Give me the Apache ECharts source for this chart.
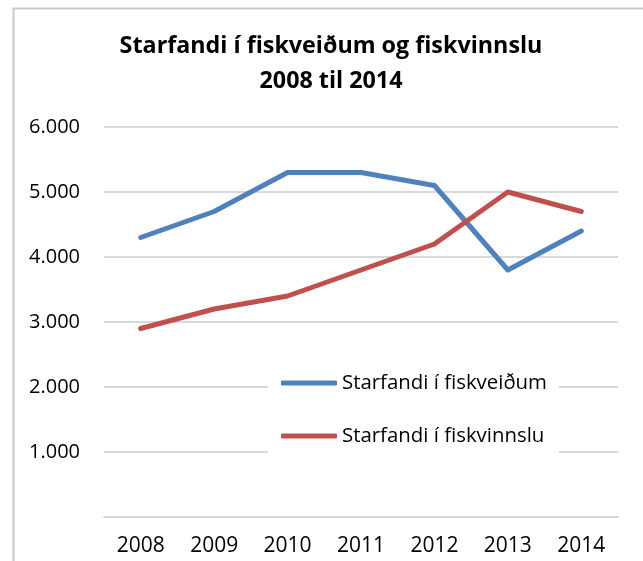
<!DOCTYPE html>
<html>
<head>
<meta charset="utf-8">
<script src="https://cdn.jsdelivr.net/npm/echarts@6/dist/echarts.min.js"></script>
<style>
  html, body { margin: 0; padding: 0; background: #fff; }
  #chart { width: 643px; height: 561px; }
</style>
</head>
<body>
<div id="chart"></div>
<script>
// ár (flokkar á x-ás)
const years = ['2008', '2009', '2010', '2011', '2012', '2013', '2014'];
// Starfandi í fiskveiðum
const fiskveidar = [4300, 4700, 5300, 5300, 5100, 3800, 4400];
// Starfandi í fiskvinnslu
const fiskvinnsla = [2900, 3200, 3400, 3800, 4200, 5000, 4700];
const seriesNames = ['Starfandi í fiskveiðum', 'Starfandi í fiskvinnslu'];
const colors = ['#4F81BD', '#C0504D'];

const font = '"Open Sans", "Noto Sans", sans-serif';

const myChart = echarts.init(document.getElementById('chart'));

const option = {
  animation: false,
  textStyle: { fontFamily: font },
  title: {
    text: 'Starfandi í fiskveiðum og fiskvinnslu\n2008 til 2014',
    left: 326,
    textAlign: 'center',
    top: 24,
    textStyle: {
      fontFamily: font,
      fontSize: 23.3,
      fontWeight: 'bold',
      color: '#000',
      lineHeight: 35,
    },
  },
  // ramminn utan um myndina
  graphic: [
    {
      type: 'rect',
      left: 11,
      top: 6,
      shape: { width: 700, height: 620 },
      style: { fill: 'none', stroke: '#C9C9C9', lineWidth: 2 },
      silent: true,
      z: -1,
    },
  ],
  grid: { left: 104, right: 25, top: 127, bottom: 44 },
  legend: {
    orient: 'vertical',
    left: 268,
    top: 365,
    padding: [8, 12, 8, 13],
    backgroundColor: '#fff',
    itemWidth: 56,
    itemHeight: 5,
    itemGap: 33,
    icon: 'roundRect',
    data: seriesNames,
    textStyle: { fontFamily: font, fontSize: 20.4, color: '#000' },
    z: 10,
  },
  xAxis: {
    type: 'category',
    data: years,
    axisLine: { lineStyle: { color: '#D9D9D9', width: 2 } },
    axisTick: { show: false },
    axisLabel: { color: '#000', fontSize: 21, margin: 19 },
  },
  yAxis: {
    type: 'value',
    min: 0,
    max: 6000,
    interval: 1000,
    axisLine: { show: false },
    axisTick: { show: false },
    axisLabel: {
      color: '#000',
      fontSize: 20,
      margin: 24,
      formatter: (v) => (v === 0 ? '' : (v / 1000).toFixed(3)),
    },
    splitLine: { lineStyle: { color: '#D9D9D9', width: 2 } },
  },
  series: [
    {
      name: seriesNames[0],
      type: 'line',
      data: fiskveidar,
      showSymbol: false,
      lineStyle: { color: colors[0], width: 5, cap: 'round', join: 'round' },
      itemStyle: { color: colors[0] },
    },
    {
      name: seriesNames[1],
      type: 'line',
      data: fiskvinnsla,
      showSymbol: false,
      lineStyle: { color: colors[1], width: 5, cap: 'round', join: 'round' },
      itemStyle: { color: colors[1] },
    },
  ],
};

myChart.setOption(option);
</script>
</body>
</html>
